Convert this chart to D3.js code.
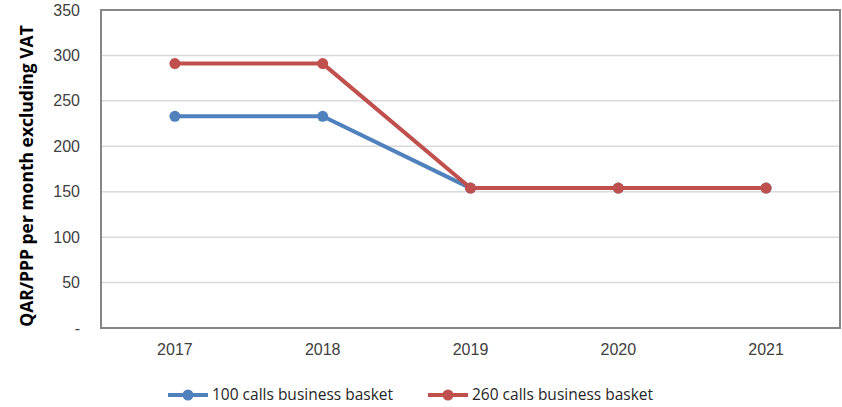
<!DOCTYPE html>
<html lang="en">
  <head>
    <meta charset="UTF-8" />
    <title>Business basket</title>
    <script src="https://d3js.org/d3.v7.min.js"></script>
    <style>
      body {
        margin: 0;
        padding: 0;
        background: #fff;
        font-family: "Open Sans", Arial, sans-serif;
      }
      svg {
        display: block;
      }
      .tick text {
        fill: #404040;
        font-size: 16px;
      }
    </style>
  </head>
  <body>
    <svg width="842" height="407"></svg>
    <script>
      // data
      const years = ["2017", "2018", "2019", "2020", "2021"];
      const basket100 = [233, 233, 154, 154, 154];
      const basket260 = [291, 291, 154, 154, 154];
      const yTicks = [0, 50, 100, 150, 200, 250, 300, 350];

      const seriesList = [
        { name: "100 calls business basket", values: basket100, color: "#4F81BD" },
        { name: "260 calls business basket", values: basket260, color: "#C0504D" }
      ];

      const margin = { top: 10, right: 2, bottom: 79, left: 101 };
      const width = 842 - margin.left - margin.right;
      const height = 407 - margin.top - margin.bottom;

      const svg = d3.select("svg");
      const g = svg.append("g")
        .attr("transform", `translate(${margin.left},${margin.top})`);

      const x = d3.scaleBand().domain(years).range([0, width]);
      const y = d3.scaleLinear().domain([0, 350]).range([height, 0]);

      // gridlines
      g.append("g")
        .selectAll("line")
        .data(yTicks.filter((d) => d > 0 && d < 350))
        .enter()
        .append("line")
        .attr("x1", 0)
        .attr("x2", width)
        .attr("y1", (d) => y(d))
        .attr("y2", (d) => y(d))
        .attr("stroke", "#d9d9d9")
        .attr("stroke-width", 1.5);

      // y axis labels
      const yAxis = g.append("g")
        .call(d3.axisLeft(y).tickValues(yTicks).tickSize(0).tickPadding(21)
          .tickFormat((d) => (d === 0 ? "-" : d)));
      yAxis.select(".domain").remove();

      // x axis labels
      const xAxis = g.append("g")
        .attr("transform", `translate(0,${height})`)
        .call(d3.axisBottom(x).tickSize(0).tickPadding(16));
      xAxis.select(".domain").remove();

      // plot border
      g.append("rect")
        .attr("x", 0)
        .attr("y", 0)
        .attr("width", width)
        .attr("height", height)
        .attr("fill", "none")
        .attr("stroke", "#868686")
        .attr("stroke-width", 2);

      // y title
      svg.append("text")
        .attr("transform", `translate(33,176) rotate(-90)`)
        .attr("text-anchor", "middle")
        .attr("font-size", 17.5)
        .attr("font-weight", "bold")
        .attr("fill", "#000")
        .text("QAR/PPP per month excluding VAT");

      const line = d3.line()
        .x((d, i) => x(years[i]) + x.bandwidth() / 2)
        .y((d) => y(d));

      seriesList.forEach((s) => {
        g.append("path")
          .datum(s.values)
          .attr("d", line)
          .attr("fill", "none")
          .attr("stroke", s.color)
          .attr("stroke-width", 4)
          .attr("stroke-linejoin", "round");

        g.selectAll(null)
          .data(s.values)
          .enter()
          .append("circle")
          .attr("cx", (d, i) => x(years[i]) + x.bandwidth() / 2)
          .attr("cy", (d) => y(d))
          .attr("r", 5.5)
          .attr("fill", s.color);
      });

      // legend
      const legendX = [168, 428];
      const legend = svg.append("g").attr("transform", "translate(0,395)");
      const items = legend.selectAll("g")
        .data(seriesList)
        .enter()
        .append("g")
        .attr("transform", (d, i) => `translate(${legendX[i]},0)`);
      items.append("line")
        .attr("x1", 0)
        .attr("x2", 40)
        .attr("stroke", (d) => d.color)
        .attr("stroke-width", 4);
      items.append("circle")
        .attr("cx", 20)
        .attr("r", 5.5)
        .attr("fill", (d) => d.color);
      items.append("text")
        .attr("x", 44)
        .attr("dy", "0.35em")
        .attr("font-size", 15.5)
        .attr("fill", "#262626")
        .text((d) => d.name);
    </script>
  </body>
</html>
